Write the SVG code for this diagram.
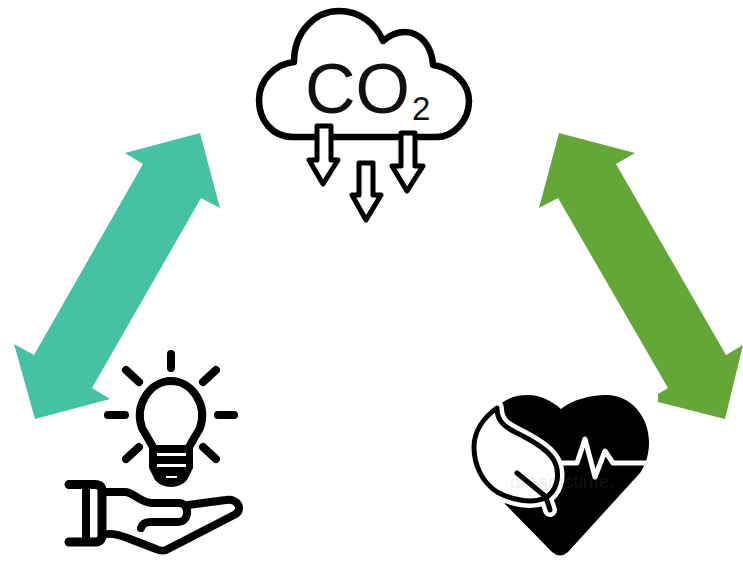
<svg xmlns="http://www.w3.org/2000/svg" width="743" height="563" viewBox="0 0 743 563">
<style>
.k{fill:none;stroke:#000;stroke-linecap:round;stroke-linejoin:round}
.a{fill:#fff;stroke:#000;stroke-width:5;stroke-linejoin:round}
.t{font-family:"Liberation Sans",Arial,sans-serif;fill:#111}
</style>
<rect width="743" height="563" fill="#fff"/>
<g id="connectors">
<polygon id="teal-arrow" fill="#45c1a4" points="200,133 220,208 201,198 92,388 110,399 35,419 14,344 34,355 143,164 125,153"/>
<polygon id="green-arrow" fill="#65a638" points="559,133 635,153 616,164 726,355 743,345 725,419 658,402 658,394 668,388 558,198 539,208"/>
</g>
<g id="cloud">
<path class="k" stroke-width="6.5" fill="#fff" d="M293,137 C272,137 259,120 259,100 C259,80 275,64 294,62 C294,32 315,11 339,11 C360,11 376,24 383,41 C390,35 397,32 405,32 C421,32 432,47 433,65 C453,68 469,83 469,101 C469,121 453,137 437,137 Z"/>
<text class="t" x="305" y="113" font-size="70">CO</text>
<text class="t" x="412" y="120" font-size="33">2</text>
<polygon class="a" points="317,126 331,126 331,160 338,160 323,184 309,160 317,160"/>
<polygon class="a" points="359,163 373,163 373,195 381,195 366,220 352,195 359,195"/>
<polygon class="a" points="401,133 415,133 415,166 423,166 407,191 392,166 401,166"/>
</g>
<g id="bulb-hand">
<path class="k" stroke-width="8" d="M171,354V368M126,370L139,382M216,370L203,382M108,415H125M218,415H234M139,447L126,459M203,447L216,459"/>
<path class="k" stroke-width="8" d="M153,447 L142,428 C134,405 150,381 171,381 C192,381 208,405 200,428 L189,447"/>
<path fill="#000" d="M149,445 H193 V468 L187,480 Q181,487 171,487 Q161,487 155,480 L149,468 Z"/>
<path fill="#fff" d="M157,453H186V456H157ZM157,464H186V467H157ZM166,476H177V478H166Z"/>
<path class="k" stroke-width="9" d="M69,484.500 H95 Q102,484.500 102,491 V535 Q102,542 95,542 H69"/>
<path class="k" stroke-width="8" d="M86,484 V542"/>
<path class="k" stroke-width="8" d="M103,492 H125 C133,492 141,503 152,503 H179 C190,503 190,522 178,522 H151 C145,522 142,524 141,528"/>
<path class="k" stroke-width="8" d="M188,505 L226,500 C238,498 244,510 234,515 L168,549 C165,551 160,551 156,549 L130,539 C120,535 110,532 103,535"/>
</g>
<g id="heart">
<path fill="#000" d="M561,409 C572,400 590,395 606,395 C632,395 649,418 649,442 C649,452 647,463 640,473 L568,552 Q560,559 552,552 L505,504 L490,470 L490,420 L503,402 C512,396 520,395 528,395 C540,395 552,401 561,409 Z"/>
<path fill="none" stroke="#fff" stroke-width="5" stroke-linejoin="round" d="M556,463 H577 L585,439 L595,477 L605,451 L613,463 H649"/>
<path fill="none" stroke="#fff" stroke-width="14" stroke-linecap="round" stroke-linejoin="round" d="M497,408 C483,418 474,432 474,447 C474,465 482,482 497,492 C512,500 532,504 545,498 C556,492 560,478 556,465 C552,452 535,442 515,432 C503,426 497,420 497,408 Z M545,498 C548,503 549,506 550,510"/>
<path fill="#fff" stroke="#000" stroke-width="5" stroke-linejoin="round" d="M497,408 C483,418 474,432 474,447 C474,465 482,482 497,492 C512,500 532,504 545,498 C556,492 560,478 556,465 C552,452 535,442 515,432 C503,426 497,420 497,408 Z"/>
<path class="k" stroke-width="5" d="M517,473 L545,496 C548,503 549,506 550,510"/>
<text x="510" y="488" font-family="'Liberation Sans',Arial,sans-serif" font-size="19" fill="#808080" fill-opacity="0.15">dreamstime.</text>
</g>
</svg>
